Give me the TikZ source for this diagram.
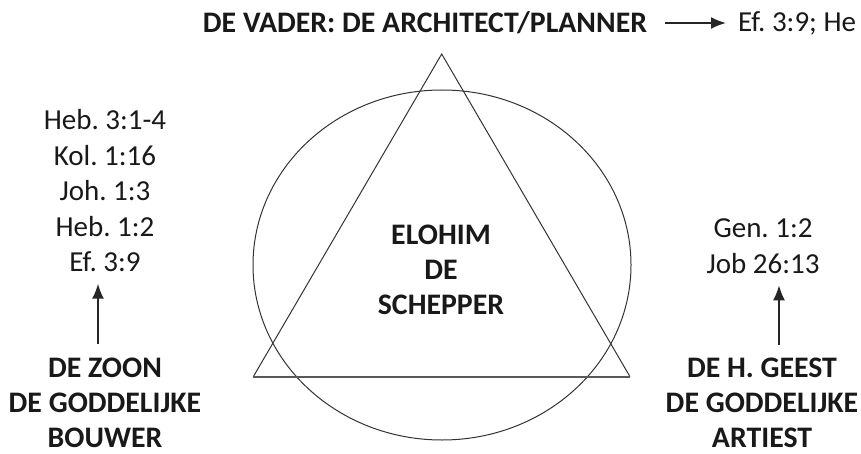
\documentclass[tikz,border=0pt]{standalone}
\usepackage{fontspec}
\setmainfont{Carlito}
\usetikzlibrary{arrows.meta}
\frenchspacing
\begin{document}
\begin{tikzpicture}[x=1pt,y=-1pt,
  txt/.style={inner sep=0pt,outer sep=0pt,align=center,text=black!90,font=\fontsize{29}{35.5}\selectfont},
  bold/.style={txt,font=\fontsize{29.8}{35}\selectfont\bfseries},
  arr/.style={draw=black!85,line width=1.8pt,-{Latex[length=15pt,width=12pt]}},
  outline/.style={draw=black!80,line width=1pt}]
\useasboundingbox (0,0) rectangle (861,454);
% circle (ellipse) and triangle
\draw[outline] (442,265) ellipse [x radius=189, y radius=175];
\coordinate (apex) at (441.7,54);
\coordinate (bl) at (253.3,376.7);
\coordinate (br) at (630,376.7);
\draw[outline] (bl) -- (apex) -- (br);
\draw[outline,draw=black!65,line width=1.8pt] (bl) -- (br);
% texts
\node[bold] (vader) at (425,23) {DE VADER: DE ARCHITECT/PLANNER};
\node[txt,anchor=west] (reftop) at (738,23) {Ef. 3:9; He};
\node[bold] (elohim) at (441,270) {ELOHIM\\DE\\SCHEPPER};
\node[txt] (refL) at (105,191) {Heb. 3:1-4\\Kol. 1:16\\Joh. 1:3\\Heb. 1:2\\Ef. 3:9};
\node[bold] (zoon) at (105,402.5) {DE ZOON\\DE GODDELIJKE\\BOUWER};
\node[txt] (refR) at (763,246) {Gen. 1:2\\Job 26:13};
\node[bold] (geest) at (762,403) {DE H. GEEST\\DE GODDELIJKE\\ARTIEST};
% arrows
\draw[arr,shorten <=18pt,shorten >=12pt] (vader.east) -- (reftop.west);
\draw[arr] ([xshift=-7pt,yshift=13.5pt]zoon.north) -- ([xshift=-7pt,yshift=-11.5pt]refL.south);
\draw[arr] ([xshift=17pt,yshift=13.5pt]geest.north) -- ([xshift=16pt,yshift=-12pt]refR.south);
\end{tikzpicture}
\end{document}
